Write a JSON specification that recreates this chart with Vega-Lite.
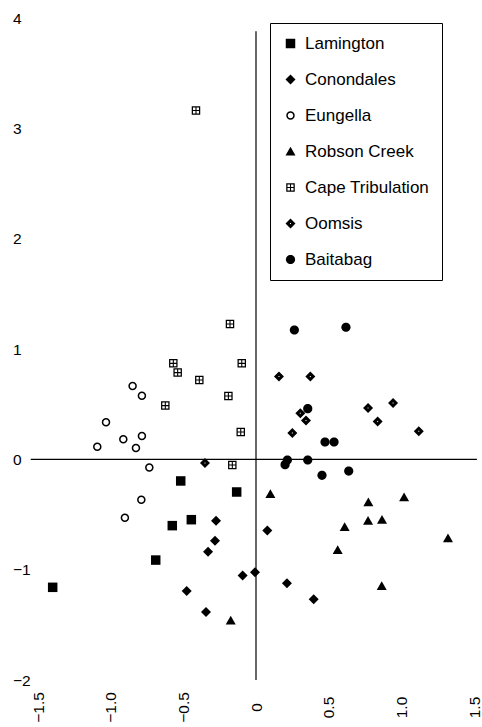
{
  "$schema": "https://vega.github.io/schema/vega-lite/v6.json",
  "width": 436,
  "height": 662,
  "autosize": "none",
  "padding": {"left": 38, "top": 18, "right": 8, "bottom": 47},
  "config": {
    "view": {"stroke": null},
    "font": "Liberation Sans",
    "axis": {"domain": false, "ticks": false, "grid": false, "labelColor": "black", "labelFont": "Liberation Sans", "labelFontSize": 15.5}
  },
  "encoding": {
    "x": {
      "field": "x", "type": "quantitative",
      "scale": {"domain": [-1.5, 1.5], "nice": false, "zero": false},
      "axis": {"title": null, "values": [-1.5, -1, -0.5, 0, 0.5, 1, 1.5], "labelAngle": 270, "labelAlign": "center", "labelBaseline": "middle", "labelPadding": 27, "labelExpr": "datum.value == 0 ? '0' : format(datum.value, '.1f')", "labelOverlap": false, "labelFlush": false}
    },
    "y": {
      "field": "y", "type": "quantitative",
      "scale": {"domain": [-2, 4], "nice": false, "zero": false},
      "axis": {"title": null, "values": [-2, -1, 0, 1, 2, 3, 4], "format": "d", "labelAlign": "left", "labelBaseline": "middle", "labelPadding": 25.5, "labelOverlap": false, "labelFlush": false}
    }
  },
  "layer": [
    {
      "data": {"values": [{"x": 0, "y": -2, "y2": 3.88}]},
      "mark": {"type": "rule", "color": "black", "strokeWidth": 1.2},
      "encoding": {"y2": {"field": "y2"}}
    },
    {
      "data": {"values": [{"x": -1.55, "x2": 1.52, "y": 0}]},
      "mark": {"type": "rule", "color": "black", "strokeWidth": 1.2},
      "encoding": {"x2": {"field": "x2"}}
    },
    {
      "data": {"values": [
        {"site": "Lamington", "x": -0.518, "y": -0.196},
        {"site": "Lamington", "x": -0.133, "y": -0.296},
        {"site": "Lamington", "x": -0.445, "y": -0.547},
        {"site": "Lamington", "x": -0.576, "y": -0.601},
        {"site": "Lamington", "x": -0.690, "y": -0.913},
        {"site": "Lamington", "x": -1.399, "y": -1.160},
        {"site": "Conondales", "x": -0.275, "y": -0.556},
        {"site": "Conondales", "x": -0.282, "y": -0.737},
        {"site": "Conondales", "x": -0.330, "y": -0.837},
        {"site": "Conondales", "x": -0.092, "y": -1.052},
        {"site": "Conondales", "x": -0.007, "y": -1.024},
        {"site": "Conondales", "x": -0.477, "y": -1.194},
        {"site": "Conondales", "x": -0.344, "y": -1.384},
        {"site": "Conondales", "x": 0.078, "y": -0.644},
        {"site": "Conondales", "x": 0.213, "y": -1.124},
        {"site": "Conondales", "x": 0.397, "y": -1.269},
        {"site": "Eungella", "x": -0.849, "y": 0.665},
        {"site": "Eungella", "x": -0.785, "y": 0.577},
        {"site": "Eungella", "x": -1.032, "y": 0.335},
        {"site": "Eungella", "x": -0.785, "y": 0.211},
        {"site": "Eungella", "x": -0.913, "y": 0.181},
        {"site": "Eungella", "x": -1.092, "y": 0.115},
        {"site": "Eungella", "x": -0.826, "y": 0.103},
        {"site": "Eungella", "x": -0.734, "y": -0.073},
        {"site": "Eungella", "x": -0.789, "y": -0.366},
        {"site": "Eungella", "x": -0.902, "y": -0.529},
        {"site": "Robson Creek", "x": 0.099, "y": -0.314},
        {"site": "Robson Creek", "x": 0.773, "y": -0.390},
        {"site": "Robson Creek", "x": 1.019, "y": -0.344},
        {"site": "Robson Creek", "x": 0.771, "y": -0.556},
        {"site": "Robson Creek", "x": 0.867, "y": -0.547},
        {"site": "Robson Creek", "x": 0.610, "y": -0.613},
        {"site": "Robson Creek", "x": 1.321, "y": -0.716},
        {"site": "Robson Creek", "x": 0.562, "y": -0.822},
        {"site": "Robson Creek", "x": 0.865, "y": -1.148},
        {"site": "Robson Creek", "x": -0.174, "y": -1.460},
        {"site": "Cape Tribulation", "x": -0.179, "y": 1.227},
        {"site": "Cape Tribulation", "x": -0.098, "y": 0.870},
        {"site": "Cape Tribulation", "x": -0.569, "y": 0.870},
        {"site": "Cape Tribulation", "x": -0.539, "y": 0.786},
        {"site": "Cape Tribulation", "x": -0.390, "y": 0.719},
        {"site": "Cape Tribulation", "x": -0.190, "y": 0.574},
        {"site": "Cape Tribulation", "x": -0.624, "y": 0.487},
        {"site": "Cape Tribulation", "x": -0.105, "y": 0.248},
        {"site": "Cape Tribulation", "x": -0.163, "y": -0.051},
        {"site": "Cape Tribulation", "x": -0.413, "y": 3.161},
        {"site": "Oomsis", "x": 0.158, "y": 0.750},
        {"site": "Oomsis", "x": 0.374, "y": 0.750},
        {"site": "Oomsis", "x": 0.305, "y": 0.417},
        {"site": "Oomsis", "x": 0.344, "y": 0.351},
        {"site": "Oomsis", "x": 0.250, "y": 0.238},
        {"site": "Oomsis", "x": 0.771, "y": 0.465},
        {"site": "Oomsis", "x": 0.943, "y": 0.511},
        {"site": "Oomsis", "x": 0.837, "y": 0.344},
        {"site": "Oomsis", "x": 1.120, "y": 0.254},
        {"site": "Oomsis", "x": -0.351, "y": -0.033},
        {"site": "Baitabag", "x": 0.264, "y": 1.172},
        {"site": "Baitabag", "x": 0.619, "y": 1.197},
        {"site": "Baitabag", "x": 0.356, "y": 0.459},
        {"site": "Baitabag", "x": 0.475, "y": 0.157},
        {"site": "Baitabag", "x": 0.537, "y": 0.157},
        {"site": "Baitabag", "x": 0.216, "y": -0.006},
        {"site": "Baitabag", "x": 0.200, "y": -0.048},
        {"site": "Baitabag", "x": 0.356, "y": -0.006},
        {"site": "Baitabag", "x": 0.454, "y": -0.145},
        {"site": "Baitabag", "x": 0.638, "y": -0.106}
      ]},
      "mark": {"type": "point", "filled": true, "color": "black", "opacity": 1, "size": 100, "strokeWidth": 0},
      "encoding": {
        "shape": {
          "field": "site", "type": "nominal",
          "scale": {
            "domain": ["Lamington", "Conondales", "Eungella", "Robson Creek", "Cape Tribulation", "Oomsis", "Baitabag"],
            "range": [
              "M-0.95,-0.95H0.95V0.95H-0.95Z",
              "M0,-1L1,0L0,1L-1,0Z",
              "M0,-0.85A0.85,0.85,0,1,1,0,0.85A0.85,0.85,0,1,1,0,-0.85Z M0,-0.55A0.55,0.55,0,1,0,0,0.55A0.55,0.55,0,1,0,0,-0.55Z",
              "M0,-0.95L1,0.8L-1,0.8Z",
              "M-0.85,-0.85H0.85V0.85H-0.85Z M-0.6,-0.6V-0.11H-0.11V-0.6Z M0.11,-0.6V-0.11H0.6V-0.6Z M-0.6,0.11V0.6H-0.11V0.11Z M0.11,0.11V0.6H0.6V0.11Z",
              "M0,-1L1,0L0,1L-1,0Z M-0.1,-0.1V0.1H0.1V-0.1Z",
              "M0,-0.92A0.92,0.92,0,1,1,0,0.92A0.92,0.92,0,1,1,0,-0.92Z"
            ]
          },
          "legend": {
            "title": null, "orient": "none", "legendX": 232, "legendY": 5,
            "padding": 12, "rowPadding": 18, "labelFontSize": 17, "labelFont": "Liberation Sans", "labelColor": "black",
            "labelOffset": 6, "symbolSize": 100, "symbolFillColor": "black", "symbolStrokeWidth": 0, "symbolOpacity": 1,
            "strokeColor": "black", "fillColor": "white", "labelLimit": 300
          }
        }
      }
    }
  ]
}
